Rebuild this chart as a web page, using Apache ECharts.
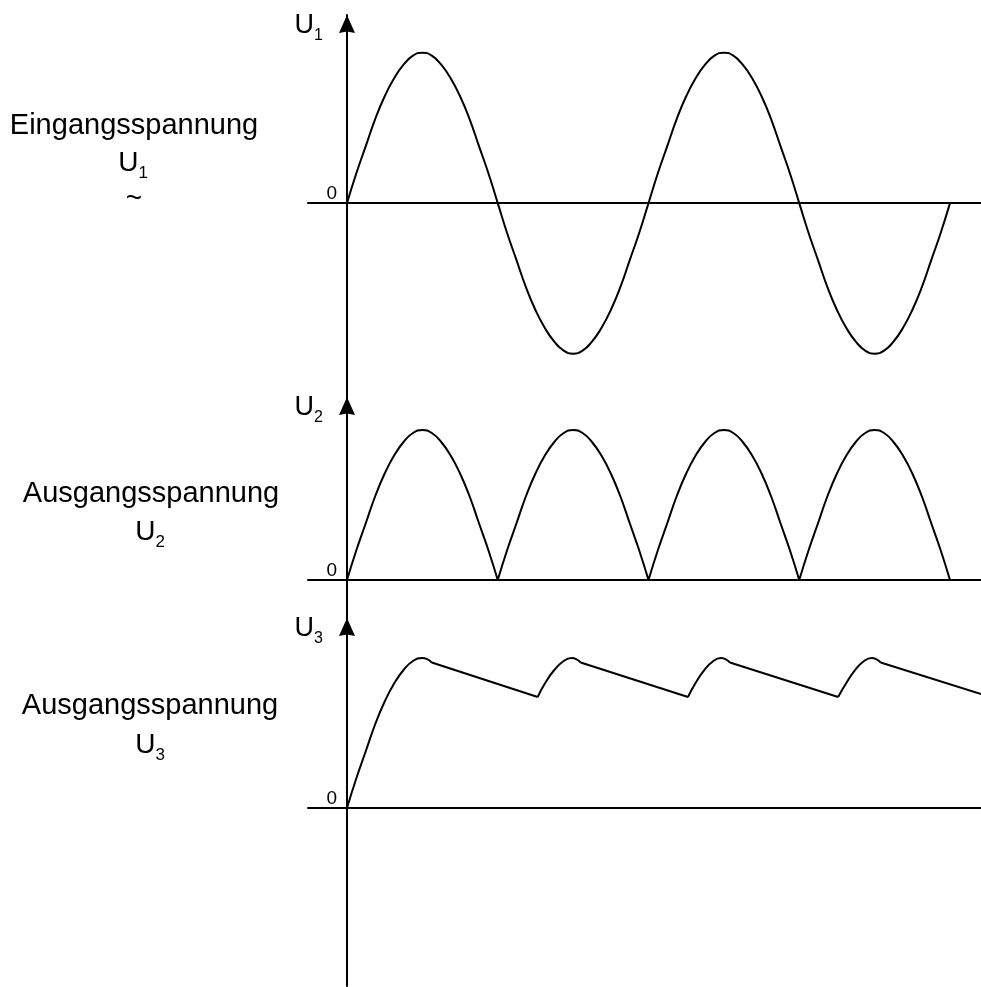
<!DOCTYPE html>
<html>
<head>
<meta charset="utf-8">
<script src="https://cdn.jsdelivr.net/npm/echarts@6.0.0/dist/echarts.min.js"></script>
<style>
  html, body { margin: 0; padding: 0; background: #fff; }
  #chart { width: 981px; height: 987px; }
</style>
</head>
<body>
<div id="chart"></div>
<script>
// time in half periods of the mains voltage
const t = [
  0, 0.0625, 0.125, 0.1875, 0.25, 0.3125, 0.375, 0.4375, 0.5, 0.5625, 0.625, 0.6875, 0.75, 0.8125, 0.875, 0.9375,
  1, 1.0625, 1.125, 1.1875, 1.25, 1.3125, 1.375, 1.4375, 1.5, 1.5625, 1.625, 1.6875, 1.75, 1.8125, 1.875, 1.9375,
  2, 2.0625, 2.125, 2.1875, 2.25, 2.3125, 2.375, 2.4375, 2.5, 2.5625, 2.625, 2.6875, 2.75, 2.8125, 2.875, 2.9375,
  3, 3.0625, 3.125, 3.1875, 3.25, 3.3125, 3.375, 3.4375, 3.5, 3.5625, 3.625, 3.6875, 3.75, 3.8125, 3.875, 3.9375,
  4,
];

// Eingangsspannung U1
const u1 = [
  0, 0.2, 0.38, 0.56, 0.71, 0.83, 0.92, 0.98, 1, 0.98, 0.92, 0.83, 0.71, 0.56, 0.38, 0.2,
  0, -0.2, -0.38, -0.56, -0.71, -0.83, -0.92, -0.98, -1, -0.98, -0.92, -0.83, -0.71, -0.56, -0.38, -0.2,
  0, 0.2, 0.38, 0.56, 0.71, 0.83, 0.92, 0.98, 1, 0.98, 0.92, 0.83, 0.71, 0.56, 0.38, 0.2,
  0, -0.2, -0.38, -0.56, -0.71, -0.83, -0.92, -0.98, -1, -0.98, -0.92, -0.83, -0.71, -0.56, -0.38, -0.2,
  0,
];

// Ausgangsspannung U2 (gleichgerichtet)
const u2 = [
  0, 0.2, 0.38, 0.56, 0.71, 0.83, 0.92, 0.98, 1, 0.98, 0.92, 0.83, 0.71, 0.56, 0.38, 0.2,
  0, 0.2, 0.38, 0.56, 0.71, 0.83, 0.92, 0.98, 1, 0.98, 0.92, 0.83, 0.71, 0.56, 0.38, 0.2,
  0, 0.2, 0.38, 0.56, 0.71, 0.83, 0.92, 0.98, 1, 0.98, 0.92, 0.83, 0.71, 0.56, 0.38, 0.2,
  0, 0.2, 0.38, 0.56, 0.71, 0.83, 0.92, 0.98, 1, 0.98, 0.92, 0.83, 0.71, 0.56, 0.38, 0.2,
  0,
];

// Ausgangsspannung U3 (geglättet), null = Knick
const t3 = [0, 0.0625, 0.125, 0.1875, 0.25, 0.3125, 0.375, 0.4375, 0.5, 0.5625, null,
  0.5625, 1.265, null,
  1.265, 1.3125, 1.375, 1.4375, 1.49, 1.55, null,
  1.55, 2.262, null,
  2.262, 2.31, 2.37, 2.43, 2.48, 2.54, null,
  2.54, 3.258, null,
  3.258, 3.31, 3.37, 3.43, 3.48, 3.54, null,
  3.54, 4.206];
const u3 = [0, 0.2, 0.38, 0.56, 0.71, 0.83, 0.92, 0.98, 1, 0.97, null,
  0.97, 0.74, null,
  0.74, 0.83, 0.92, 0.98, 1, 0.97, null,
  0.97, 0.74, null,
  0.74, 0.83, 0.92, 0.98, 1, 0.97, null,
  0.97, 0.74, null,
  0.74, 0.83, 0.92, 0.98, 1, 0.97, null,
  0.97, 0.76];

const axisNames = ["1", "2", "3"];
const labels = ["Eingangsspannung", "Ausgangsspannung", "Ausgangsspannung"];

const font = '"Liberation Sans", Arial, sans-serif';
const black = "#000";

// U mit Index (Index tiefer gestellt)
function richU(size, sub) {
  return {
    u: { fontSize: size, fontFamily: font, color: black, fill: black, verticalAlign: "top", lineHeight: 30 },
    s: { fontSize: sub, fontFamily: font, color: black, fill: black, verticalAlign: "top", lineHeight: 13, padding: [16, 0, 0, 0] },
  };
}

// U2: Bögen getrennt, damit die Spitzen unten scharf bleiben
const u2Data = [];
t.forEach((x, i) => {
  u2Data.push([x, u2[i]]);
  if (u2[i] === 0 && i > 0 && i < t.length - 1) {
    u2Data.push(null);
    u2Data.push([x, u2[i]]);
  }
});
const u3Data = t3.map((x, i) => (x === null ? null : [x, u3[i]]));

const grids = [
  { left: 308, right: 0, top: 15, height: 383.8 },
  { left: 308, right: 0, top: 397, height: 222 },
  { left: 308, right: 0, top: 618, height: 368 },
];
const yRange = [
  [-1.3, 1.25],
  [-0.26, 1.22],
  [-1.1867, 1.2667],
];

const chart = echarts.init(document.getElementById("chart"));

chart.setOption({
  animation: false,
  backgroundColor: "#fff",
  grid: grids,
  xAxis: grids.map((g, i) => ({
    type: "value",
    gridIndex: i,
    min: -0.2587,
    max: 4.2056,
    axisLine: { onZero: true, lineStyle: { color: black, width: 2 } },
    axisTick: { show: false },
    axisLabel: { show: false },
    splitLine: { show: false },
  })),
  yAxis: grids.map((g, i) => ({
    type: "value",
    gridIndex: i,
    min: yRange[i][0],
    max: yRange[i][1],
    name: "{u|U}{s|" + axisNames[i] + "}",
    nameLocation: "end",
    nameGap: 3,
    nameTextStyle: {
      align: "right",
      verticalAlign: "top",
      padding: [0, 24, 0, 0],
      rich: richU(27, 16),
    },
    axisLine: {
      onZero: true,
      symbol: ["none", "path://M8,0 L16,18 L8,16.5 L0,18 Z"],
      symbolSize: [16, 18],
      symbolOffset: [0, -9],
      lineStyle: { color: black, width: 2 },
    },
    axisTick: { show: false },
    axisLabel: {
      customValues: [0],
      margin: -29,
      fontSize: 19,
      fontFamily: font,
      color: black,
      verticalAlign: "bottom",
    },
    splitLine: { show: false },
  })),
  graphic: [
    { type: "text", x: 134, y: 126, style: { text: labels[0], fontSize: 29, fontFamily: font, fill: black, align: "center", verticalAlign: "middle" } },
    { type: "text", x: 133, y: 164, style: { text: "{u|U}{s|1}", rich: richU(28, 17), align: "center", verticalAlign: "middle" } },
    { type: "text", x: 134, y: 199, style: { text: "~", fontSize: 28, fontFamily: font, fill: black, align: "center", verticalAlign: "middle" } },
    { type: "text", x: 151, y: 494, style: { text: labels[1], fontSize: 29, fontFamily: font, fill: black, align: "center", verticalAlign: "middle" } },
    { type: "text", x: 150, y: 533, style: { text: "{u|U}{s|2}", rich: richU(28, 17), align: "center", verticalAlign: "middle" } },
    { type: "text", x: 150, y: 706, style: { text: labels[2], fontSize: 29, fontFamily: font, fill: black, align: "center", verticalAlign: "middle" } },
    { type: "text", x: 150, y: 746, style: { text: "{u|U}{s|3}", rich: richU(28, 17), align: "center", verticalAlign: "middle" } },
  ],
  series: [
    {
      name: "U1",
      type: "line",
      xAxisIndex: 0,
      yAxisIndex: 0,
      smooth: true,
      symbol: "none",
      lineStyle: { color: black, width: 2 },
      data: t.map((x, i) => [x, u1[i]]),
    },
    {
      name: "U2",
      type: "line",
      xAxisIndex: 1,
      yAxisIndex: 1,
      smooth: true,
      symbol: "none",
      lineStyle: { color: black, width: 2 },
      data: u2Data,
    },
    {
      name: "U3",
      type: "line",
      xAxisIndex: 2,
      yAxisIndex: 2,
      smooth: true,
      symbol: "none",
      lineStyle: { color: black, width: 2 },
      data: u3Data,
    },
  ],
});
</script>
</body>
</html>
